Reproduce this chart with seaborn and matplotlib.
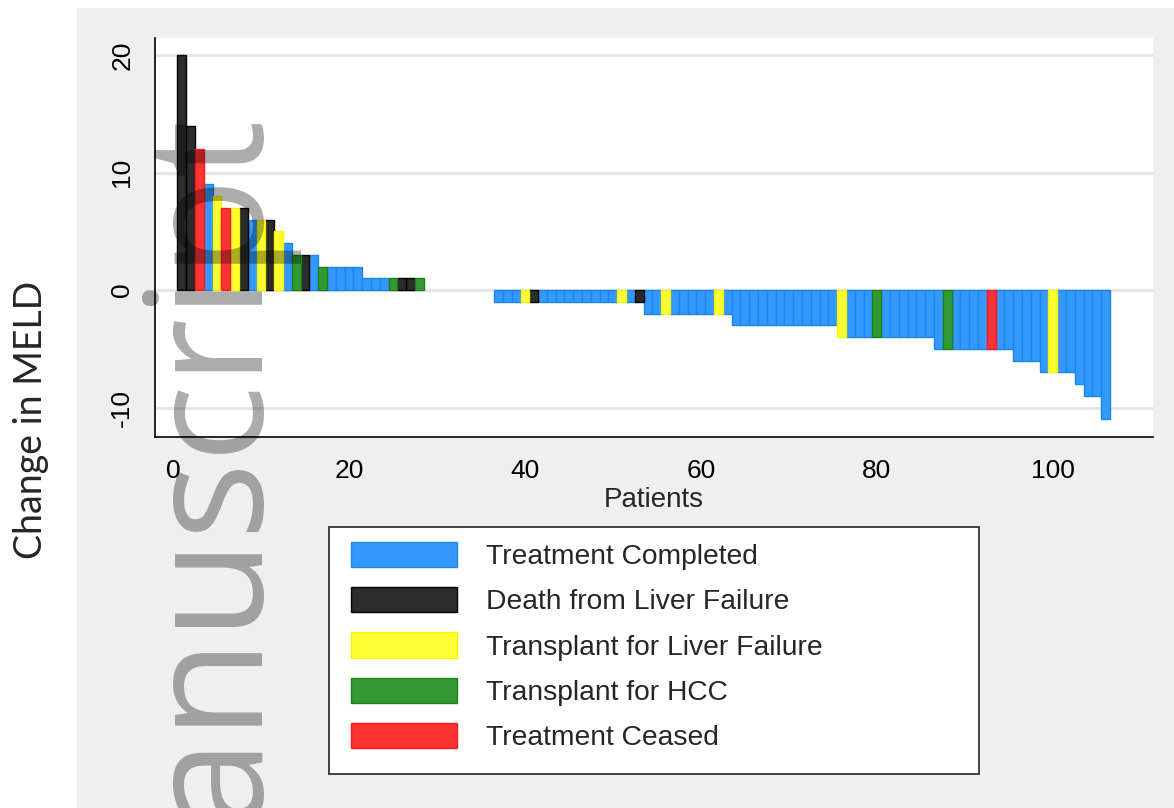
import numpy as np
import pandas as pd
import matplotlib
matplotlib.use("Agg")
import matplotlib.pyplot as plt
from matplotlib.patches import Patch, Rectangle
import seaborn as sns

# change in MELD per patient, sorted high to low
meld_change = [20, 14, 12, 9, 8, 7, 7, 7, 6, 6, 6, 5, 4, 3, 3, 3, 2, 2, 2, 2, 2, 1, 1, 1, 1, 1, 1, 1,
               0, 0, 0, 0, 0, 0, 0, 0,
               -1, -1, -1, -1, -1, -1, -1, -1, -1, -1, -1, -1, -1, -1, -1, -1, -1,
               -2, -2, -2, -2, -2, -2, -2, -2, -2, -2,
               -3, -3, -3, -3, -3, -3, -3, -3, -3, -3, -3, -3,
               -4, -4, -4, -4, -4, -4, -4, -4, -4, -4, -4,
               -5, -5, -5, -5, -5, -5, -5, -5, -5,
               -6, -6, -6, -7, -7, -7, -7, -8, -9, -9, -11]
# outcome code per patient: C completed, D death, T transplant LF, H transplant HCC, S ceased
outcome_codes = ("DDSCTSTDCTDTCHDCHCCCCCCCHDDH" + "CCCCCCCC" + "CCCTDCCCCCCCCCTCD"
                 + "CCTCCCCCTC" + "CCCCCCCCCCCC" + "TCCCHCCCCCC" + "CHCCCCSCC" + "CCCCTCCCCCC")
patients = list(range(1, len(meld_change) + 1))

outcome_names = {"C": "Treatment Completed", "D": "Death from Liver Failure",
                 "T": "Transplant for Liver Failure", "H": "Transplant for HCC",
                 "S": "Treatment Ceased"}
legend_order = ["Treatment Completed", "Death from Liver Failure",
                "Transplant for Liver Failure", "Transplant for HCC", "Treatment Ceased"]
fill_colors = ["#3399ff", "#2c2c2c", "#ffff33", "#339933", "#ff3333"]
edge_colors = ["#1a85f0", "#000000", "#f5f500", "#1a801a", "#ff1a1a"]

df = pd.DataFrame({"patient": patients, "change": meld_change,
                   "outcome": [outcome_names[c] for c in outcome_codes]})

sns.set_style("white")
plt.rcParams["font.family"] = ["Liberation Sans", "DejaVu Sans"]
plt.rcParams["axes.unicode_minus"] = False

fig = plt.figure(figsize=(11.74, 8.08), dpi=100)
fig.patch.set_facecolor("white")
# grey graph region (Stata style background)
fig.patches.append(Rectangle((77 / 1174, 0), 1 - 77 / 1174, 1 - 8 / 808,
                             transform=fig.transFigure, facecolor="#efefef",
                             edgecolor="none", zorder=-5))

ax = fig.add_axes([155 / 1174, 1 - 437 / 808, 998 / 1174, 399 / 808])
ax.set_facecolor("white")

palette = dict(zip(legend_order, fill_colors))
sns.barplot(data=df, x="patient", y="change", hue="outcome", hue_order=legend_order,
            palette=palette, native_scale=True, dodge=False, width=1.0,
            saturation=1, errorbar=None, legend=False, ax=ax)

face_to_edge = {tuple(np.round(matplotlib.colors.to_rgb(f), 3)): e
                for f, e in zip(fill_colors, edge_colors)}
for p in ax.patches:
    key = tuple(np.round(p.get_facecolor()[:3], 3))
    p.set_edgecolor(face_to_edge.get(key, "none"))
    p.set_linewidth(1.0 if p.get_height() != 0 else 0)
    p.set_zorder(2)

ax.set_xlim(-2.05, 111.4)
ax.set_ylim(-12.5, 21.45)
ax.set_xticks([0, 20, 40, 60, 80, 100])
ax.set_yticks([-10, 0, 10, 20])
ax.grid(axis="y", color="#e6e6e6", linewidth=2.2, zorder=0)
ax.set_axisbelow(True)
for s in ["top", "right"]:
    ax.spines[s].set_visible(False)
for s in ["left", "bottom"]:
    ax.spines[s].set_color("black")
    ax.spines[s].set_linewidth(1.2)
ax.tick_params(axis="both", direction="out", length=8, width=1, color="black",
               labelsize=19, labelcolor="black")
ax.tick_params(axis="y", pad=7, labelrotation=90)
ax.tick_params(axis="x", pad=8)
for lbl in ax.get_yticklabels():
    lbl.set_va("center")
ax.set_xlabel("Patients", fontsize=20, labelpad=2.5)
ax.set_ylabel("")

# legend in its own box below the plot
fig.patches.append(Rectangle((329 / 1174, 1 - 774 / 808), 650 / 1174, 247 / 808,
                             transform=fig.transFigure, facecolor="white",
                             edgecolor="#333333", linewidth=1.3, zorder=-1))
handles = [Patch(facecolor=f, edgecolor=e, linewidth=1) for f, e in zip(fill_colors, edge_colors)]
fig.legend(handles, legend_order, loc="upper left",
           bbox_to_anchor=(351 / 1174, 1 - 542 / 808), frameon=False, fontsize=20.3,
           handlelength=3.75, handleheight=1.0, handletextpad=1.05, labelspacing=0.6,
           borderpad=0, borderaxespad=0)

fig.text(31 / 1174, 1 - 420 / 808, "Change in MELD", rotation=90, ha="center", va="center",
         fontsize=27, family=["Lato", "DejaVu Sans"])

# watermark
fig.text(247 / 1174, 1 - 103 / 808, "Manuscript", rotation=90, rotation_mode="anchor",
         ha="right", va="baseline", fontsize=117, family=["Open Sans", "DejaVu Sans"],
         color="black", alpha=0.33, zorder=10)

fig.savefig("out.png", dpi=100)
